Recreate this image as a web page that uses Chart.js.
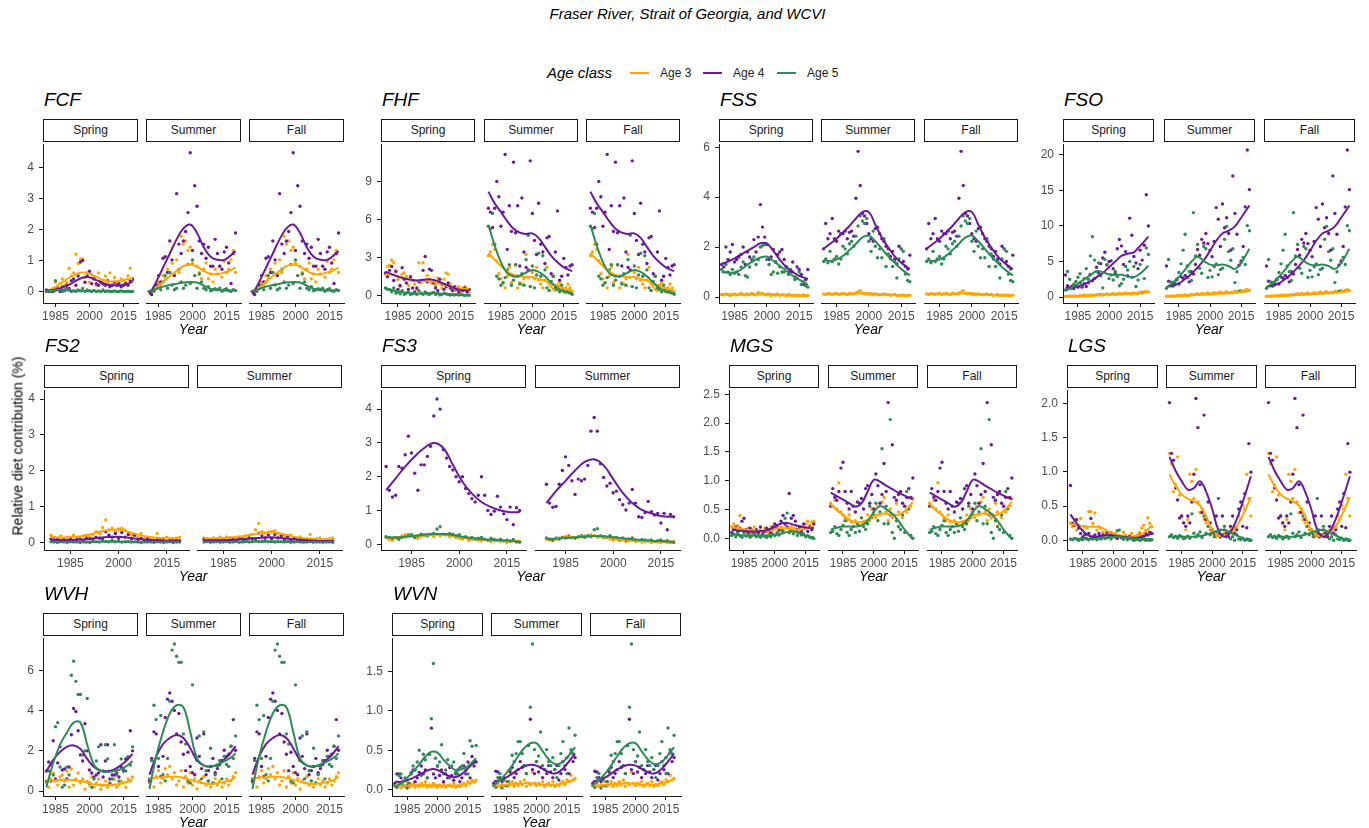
<!DOCTYPE html>
<html>
<head>
<meta charset="utf-8">
<script src="https://cdn.jsdelivr.net/npm/chart.js@4.4.1/dist/chart.umd.min.js"></script>
<style>
  body { margin: 0; background: #fff; font-family: "Liberation Sans", Arial, sans-serif; }
  #page { position: relative; width: 1369px; height: 828px; overflow: hidden; background: #fff; }
  #page canvas { position: absolute; }
  .txt { position: absolute; white-space: nowrap; color: #000; }
  .strip { position: absolute; box-sizing: border-box; border: 1px solid #1a1a1a; background: #fff;
           font-size: 12px; color: #1a1a1a; text-align: center; line-height: 21px; }
  .swatch { position: absolute; height: 2px; }
</style>
</head>
<body>
<div id="page"></div>
<script>
// ---- data ----
const AGE_LABELS = ['Age 3', 'Age 4', 'Age 5'];
const AGE_COLORS = ['#FFA500', '#6A1B9A', '#2E8B57'];
const X_TICKS = [1985, 2000, 2015];

const YEARS = [1977,1978,1979,1980,1981,1982,1983,1984,1985,1986,1987,1988,1989,1990,1991,1992,1993,1994,1995,1996,
  1997,1998,1999,2000,2001,2002,2003,2004,2005,2006,2007,2008,2009,2010,2011,2012,2013,2014,2015,2016,2017,2018,2019];
const FIT77 = [1977,1980,1983,1986,1989,1992,1995,1998,2001,2004,2007,2010,2013,2016,2019];
const FIT79 = [1979,1982,1985,1988,1991,1994,1997,2000,2003,2006,2009,2012,2015,2019];
const FIT81 = [1981,1984,1987,1990,1993,1996,1999,2002,2005,2008,2011,2014,2017,2019];

// each *Pts / *Fit array holds [Age 3, Age 4, Age 5]
const fcfSpringPts = [
  [0,0.02,0.05,0.1,0.3,0.15,0.25,0.4,0.2,0.3,0.75,0.5,0.6,1.2,0.9,1.05,1.05,0.45,0.6,0.3,0.55,0.45,0.2,0.6,0.35,0.25,0.5,0.3,0.6,0.2,0.45,0.3,0.25,0.4,0.35,0.3,0.5,0.75,0.35],
  [0.05,0,0.02,0,0.05,0.1,0,0.15,0.05,0.2,0.1,0.35,0.4,0.2,0.5,0.95,1.0,0.3,0.5,0.65,0.25,0.4,0.25,0.2,0.3,0.25,0.2,0.35,0.15,0.2,0.3,0.2,0.25,0.15,0.2,0.25,0.2,0.35,0.4],
  [0,0.02,0,0.05,0.35,0.1,0.05,0,0.02,0.1,0.05,0,0.02,0,0.05,0.02,0.1,0,0.05,0.02,0,0.03,0,0.02,0,0.05,0,0.02,0,0,0.02,0,0,0.02,0,0,0.01,0,0]
];
const fcfSpringFit = [
  [0,0.1,0.25,0.4,0.52,0.6,0.6,0.5,0.4,0.33,0.32,0.35,0.4,0.4],
  [0.02,0.05,0.1,0.18,0.3,0.42,0.47,0.4,0.3,0.22,0.2,0.2,0.25,0.32],
  [0.01,0.03,0.05,0.04,0.03,0.02,0.02,0.02,0.01,0.01,0.01,0.01,0.01,0.01]
];
const fcfSummerPts = [
  [0,0,0.05,0.1,0.3,0.2,0.5,0.4,0.7,0.6,0.9,0.55,1.0,0.6,1.75,1.5,1.6,1.3,1.4,0.9,0.5,0.8,0.6,0.4,0.7,0.9,0.4,0.55,0.3,0.7,0.55,0.8,0.45,0.95,0.6,0.7,1.0,1.3,0.6],
  [0,-0.1,0.05,0.2,0.5,0.3,1.05,1.1,0.6,1.6,1.0,0.5,3.1,1.5,1.2,1.6,1.9,2.5,4.4,1.3,3.35,2.7,1.6,1.2,1.5,1.05,1.4,0.8,0.8,1.65,1.2,0.8,0.7,1.25,1.4,0.9,0.25,1.2,1.85],
  [0,0.02,0,0.1,0.2,0.05,0.3,0.5,0.1,0.6,0.2,0.05,0.1,0.7,0.3,0.1,0.2,0.85,0.25,1.0,0.5,0.1,0.55,0.3,0.1,0.05,0.15,0.02,0.05,0.08,0.05,0.1,0,0.05,0.08,0.02,0,0.05,0.03]
];
const fcfSummerFit = [
  [0,0.12,0.3,0.48,0.65,0.8,0.86,0.78,0.65,0.55,0.55,0.6,0.68,0.75],
  [-0.1,0.3,0.75,1.2,1.65,2.0,2.12,1.85,1.4,1.1,1.0,1.0,1.15,1.28],
  [0,0.08,0.15,0.2,0.24,0.28,0.3,0.28,0.18,0.08,0.04,0.03,0.03,0.03]
];

const fhfSpringPts = [
  [1.7,2.3,2.4,2.8,2.6,2.0,1.3,0.7,1.7,1.8,1.5,0.8,1.4,1.2,0.9,0.5,2.6,1.0,2.6,1.2,1.6,1.3,1.0,1.2,0.8,1.4,1.0,0.6,1.3,1.8,1.7,0.9,0.5,0.4,0.6,0.7,0.3,0.6,0.7,0.5,0.3],
  [1.8,1.5,2.0,2.3,1.2,1.9,0.5,0.8,2.2,1.3,1.0,0.5,1.5,0.6,0.3,0.6,1.1,1.2,2.0,3.1,1.1,2.1,2.0,1.0,0.6,0.4,1.3,0.9,0.5,0.7,1.0,0.6,0.4,0.7,0.5,0.3,0.5,0.4,0.6,0.3,0.5],
  [0.6,0.5,0.5,0.3,0.6,0.2,0.3,0.15,0.4,0.1,0.2,0.3,0.1,0.15,0.2,0.1,0.4,0.2,0.1,0.3,0.15,0.1,0.2,0.25,0.1,0.2,0.05,0.1,0.2,0.15,0.1,0.05,0.1,0.05,0.1,0.05,0.1,0.05,0.02,0.05,0.03]
];
const fhfSpringFit = [
  [1.7,1.65,1.55,1.4,1.3,1.2,1.15,1.15,1.05,0.9,0.75,0.6,0.55,0.55],
  [1.9,1.7,1.5,1.35,1.25,1.2,1.25,1.3,1.2,1.0,0.8,0.6,0.45,0.4],
  [0.6,0.45,0.33,0.25,0.2,0.18,0.18,0.2,0.2,0.15,0.1,0.08,0.06,0.05]
];
const fhfSummerPts = [
  [3.1,3.4,4.0,3.6,2.7,1.7,1.3,1.0,0.6,1.5,2.2,1.0,1.5,2.4,0.6,1.0,0.9,1.3,3.2,1.4,0.7,1.8,1.3,2.2,1.2,0.9,0.6,1.2,2.2,0.9,0.7,0.5,0.4,0.8,1.0,0.5,0.3,0.6,0.9,0.6,0.3],
  [6.8,6.5,5.3,6.8,8.9,7.7,5.4,6.5,11.0,3.6,7.0,5.0,10.4,4.9,7.0,2.3,7.6,3.4,2.2,2.0,10.5,6.4,4.3,3.2,7.2,4.0,3.4,2.5,4.5,4.6,1.7,1.5,3.4,6.6,1.2,1.5,2.9,2.2,1.6,2.3,2.4],
  [5.4,5.2,6.4,4.0,1.5,1.3,0.8,1.0,1.4,2.0,2.4,0.8,1.2,2.4,1.5,0.9,1.7,0.8,2.8,4.7,0.7,2.3,0.6,1.6,3.3,1.5,3.1,2.0,0.6,0.4,1.1,1.5,0.6,0.5,0.3,0.8,0.5,0.3,0.4,0.2,0.1]
];
const fhfSummerFit = [
  [3.3,2.8,2.3,1.9,1.6,1.5,1.45,1.45,1.3,1.15,0.95,0.75,0.55,0.4],
  [8.1,7.2,6.5,5.8,5.2,4.9,4.8,4.85,4.5,3.8,3.1,2.6,2.2,1.9],
  [5.5,3.9,2.6,1.75,1.5,1.55,1.8,2.0,1.85,1.5,1.0,0.6,0.3,0.15]
];

const fssSpringPts = [
  [0.1,0.08,0.12,0.1,0.06,0.1,0.12,0.08,0.1,0.15,0.1,0.08,0.12,0.1,0.14,0.1,0.08,0.18,0.12,0.15,0.1,0.08,0.12,0.05,0.1,0.08,0.12,0.06,0.1,0.08,0.05,0.1,0.07,0.05,0.08,0.04,0.06,0.05,0.08,0.04,0.06],
  [1.3,1.2,2.0,1.5,1.8,2.1,1.4,1.5,1.6,1.7,2.0,1.3,1.8,1.6,1.5,2.3,1.8,2.4,3.7,2.8,2.4,2.1,1.5,1.6,1.9,1.4,1.7,1.8,1.9,1.5,1.2,1.0,1.0,1.4,0.8,1.2,1.1,0.9,0.5,0.7,1.1],
  [1.1,1.0,1.3,1.0,0.9,1.1,0.95,1.0,0.9,1.2,1.4,0.85,0.8,1.2,1.5,1.6,1.3,1.5,2.0,2.05,2.1,1.5,1.3,0.9,1.0,1.4,0.95,1.2,1.0,1.0,1.2,0.9,1.1,1.0,0.7,0.75,1.0,0.5,0.6,0.45,0.4]
];
const fssSpringFit = [
  [0.1,0.1,0.1,0.1,0.1,0.1,0.12,0.12,0.1,0.08,0.08,0.07,0.07,0.06],
  [1.33,1.42,1.55,1.7,1.85,2.0,2.15,2.15,1.85,1.5,1.2,1.0,0.85,0.72],
  [1.02,0.98,0.98,1.1,1.3,1.45,1.58,1.62,1.45,1.25,1.05,0.85,0.7,0.5]
];
const fssSummerPts = [
  [0.12,0.1,0.14,0.12,0.1,0.12,0.15,0.1,0.12,0.14,0.12,0.1,0.15,0.13,0.12,0.16,0.2,0.25,0.15,0.12,0.14,0.1,0.12,0.08,0.12,0.1,0.08,0.1,0.12,0.08,0.1,0.06,0.08,0.1,0.05,0.07,0.06,0.08,0.04,0.06,0.07],
  [1.9,2.9,2.3,2.5,3.1,2.3,2.2,2.6,2.5,2.5,2.6,2.3,2.55,2.6,2.4,3.9,5.75,4.4,3.3,3.2,2.9,2.5,2.3,2.2,2.7,2.75,2.5,2.3,2.2,2.0,1.9,1.6,1.8,1.5,1.3,2.0,1.9,1.4,1.2,1.1,1.65],
  [1.4,1.5,1.35,1.8,1.4,1.5,1.6,1.3,1.5,2.0,1.9,1.7,2.1,2.2,2.0,2.4,2.8,3.2,3.0,2.9,3.1,2.2,1.8,2.6,2.0,1.55,1.9,1.55,2.3,1.2,1.7,1.5,1.2,1.4,0.75,1.5,1.9,1.8,0.9,0.65,0.6]
];
const fssSummerFit = [
  [0.1,0.12,0.12,0.12,0.12,0.13,0.15,0.15,0.12,0.1,0.08,0.08,0.07,0.06],
  [1.9,2.1,2.3,2.55,2.8,3.1,3.35,3.35,2.85,2.35,1.95,1.6,1.35,1.1],
  [1.45,1.42,1.48,1.62,1.85,2.1,2.35,2.42,2.2,1.9,1.6,1.35,1.1,0.85]
];

const fsoSpringPts = [
  [0.1,0.1,0.15,0.1,0.12,0.15,0.1,0.2,0.15,0.25,0.2,0.15,0.3,0.2,0.25,0.35,0.3,0.4,0.3,0.35,0.45,0.3,0.4,0.5,0.35,0.45,0.55,0.4,0.5,0.6,0.45,0.5,0.4,0.6,0.5,0.55,0.7,0.6,0.75,0.8,0.7],
  [3.1,1.6,1.3,1.5,1.2,1.6,1.4,2.0,1.4,1.9,1.5,2.0,3.2,2.3,2.6,4.2,3.4,4.7,5.5,6.3,4.5,5.0,5.1,4.0,3.4,6.8,8.1,7.2,4.6,6.4,3.0,11.1,8.7,5.7,4.8,4.0,6.6,5.2,7.3,14.4,10.0],
  [1.0,3.6,2.5,1.2,1.8,2.2,2.8,3.3,1.6,2.6,4.0,2.5,5.8,8.5,5.2,3.6,4.8,3.0,1.3,5.3,4.6,2.6,3.1,2.4,3.6,2.9,1.6,1.9,2.5,4.3,3.8,5.0,2.8,4.3,1.5,2.4,4.6,0.6,2.6,6.9,6.0]
];
const fsoSpringFit = [
  [0.1,0.12,0.15,0.2,0.25,0.3,0.35,0.38,0.4,0.45,0.5,0.55,0.6,0.7],
  [1.3,1.4,1.5,1.8,2.2,2.8,3.4,4.2,5.0,5.8,6.1,6.3,7.2,8.5],
  [0.9,1.35,1.9,2.5,3.1,3.65,3.5,3.2,3.1,3.15,2.9,2.8,3.3,4.4]
];
const fsoSummerPts = [
  [0.1,0.12,0.1,0.15,0.12,0.2,0.15,0.25,0.2,0.3,0.25,0.2,0.35,0.3,0.4,0.45,0.35,0.5,0.4,0.45,0.55,0.4,0.5,0.6,0.45,0.55,0.7,0.5,0.6,0.75,0.55,0.65,0.6,0.8,0.7,0.75,0.9,0.8,0.95,1.0,0.9],
  [4.3,2.2,1.6,2.0,1.7,2.4,1.8,2.8,2.6,3.0,2.7,2.1,3.5,3.2,4.5,6.6,5.8,8.0,7.5,8.8,7.4,6.5,5.6,7.7,12.4,10.8,7.0,12.9,9.6,11.0,8.8,6.5,16.8,11.6,8.7,4.4,5.0,7.0,12.5,20.4,14.9],
  [1.2,5.2,2.1,1.5,2.0,2.5,3.4,4.6,6.5,8.7,4.3,3.5,2.3,11.7,5.7,7.3,4.0,3.3,7.0,6.7,2.7,3.7,2.8,4.2,4.6,3.1,3.8,4.0,8.0,9.8,6.3,5.1,6.7,2.0,3.5,0.8,4.8,5.5,4.5,9.9,9.2]
];
const fsoSummerFit = [
  [0.1,0.12,0.15,0.2,0.25,0.3,0.35,0.4,0.45,0.5,0.55,0.6,0.7,0.85],
  [1.4,1.6,1.9,2.5,3.2,4.1,5.1,6.4,7.8,8.8,9.2,9.8,11.0,12.7],
  [1.3,2.0,2.8,3.8,4.9,5.6,5.0,4.5,4.4,4.5,4.3,3.9,4.7,6.7]
];

const fs2SpringPts = [
  [0.2,0.15,0.12,0.18,0.1,0.15,0.12,0.2,0.15,0.1,0.18,0.2,0.15,0.22,0.3,0.25,0.42,0.63,0.35,0.4,0.3,0.38,0.4,0.35,0.25,0.2,0.22,0.15,0.25,0.1,0.15,0.12,0.08,0.25,0.1,0.12,0.15,0.08,0.1,0.12,0.15],
  [0.1,0.08,0.1,0.05,0.08,0.06,0.1,0.05,0.08,0.1,0.06,0.12,0.1,0.08,0.15,0.12,0.1,0.3,0.2,0.15,0.25,0.12,0.28,0.15,0.22,0.1,0.2,0.08,0.12,0.05,0.1,0.06,0.04,0.08,0.05,0.06,0.03,0.05,0.04,0.06,0.05],
  [0.02,0.01,0,0.02,0.01,0,0.02,0.01,0.01,0,0.02,0.01,0,0.03,0.02,0.01,0.05,0.03,0.02,0.06,0.02,0.04,0.01,0.02,0.03,0.01,0.02,0.01,0,0.02,0.01,0.01,0,0.02,0.01,0,0.01,0.02,0,0.01,0.01]
];
const fs2SpringFit = [
  [0.15,0.14,0.15,0.17,0.22,0.3,0.35,0.36,0.3,0.22,0.16,0.13,0.12,0.12],
  [0.07,0.07,0.07,0.08,0.1,0.13,0.15,0.16,0.13,0.1,0.07,0.05,0.05,0.05],
  [0.01,0.01,0.01,0.01,0.01,0.02,0.02,0.02,0.02,0.01,0.01,0.01,0.01,0.01]
];
const fs2SummerPts = [
  [0.12,0.1,0.08,0.12,0.1,0.14,0.1,0.15,0.12,0.1,0.14,0.15,0.12,0.18,0.2,0.22,0.35,0.52,0.3,0.25,0.28,0.3,0.32,0.25,0.2,0.18,0.15,0.2,0.12,0.1,0.15,0.08,0.1,0.22,0.08,0.1,0.12,0.06,0.08,0.1,0.12],
  [0.08,0.06,0.08,0.05,0.06,0.05,0.08,0.05,0.06,0.08,0.05,0.1,0.08,0.06,0.12,0.1,0.08,0.25,0.18,0.12,0.2,0.1,0.22,0.12,0.18,0.08,0.16,0.06,0.1,0.04,0.08,0.05,0.03,0.06,0.04,0.05,0.03,0.04,0.03,0.05,0.04],
  [0.01,0.02,0,0.01,0.02,0,0.01,0.02,0,0.01,0.02,0,0.01,0.03,0.01,0.02,0.04,0.02,0.03,0.05,0.02,0.03,0.01,0.02,0.02,0.01,0.02,0,0.01,0.02,0.01,0,0.01,0.02,0,0.01,0.01,0,0.01,0.01,0]
];
const fs2SummerFit = [
  [0.1,0.1,0.12,0.14,0.17,0.22,0.26,0.28,0.24,0.18,0.13,0.1,0.09,0.09],
  [0.06,0.06,0.06,0.07,0.09,0.11,0.13,0.14,0.12,0.09,0.07,0.05,0.04,0.04],
  [0.01,0.01,0.01,0.01,0.01,0.02,0.02,0.02,0.02,0.01,0.01,0.01,0.01,0.01]
];

const fs3SpringPts = [
  [0.2,0.15,0.12,0.18,0.2,0.25,0.28,0.3,0.25,0.2,0.18,0.22,0.25,0.3,0.28,0.22,0.3,0.25,0.28,0.3,0.22,0.25,0.2,0.18,0.15,0.2,0.12,0.15,0.18,0.12,0.1,0.15,0.12,0.08,0.1,0.12,0.08,0.1,0.05,0.08,0.1,0.06,0.08],
  [2.3,1.6,1.4,1.45,2.3,2.25,2.65,3.2,2.7,2.1,1.6,2.35,2.35,2.6,2.9,3.8,4.3,4.0,2.8,2.55,2.3,2.2,2.0,1.85,2.0,1.65,1.5,1.35,1.25,1.45,2.0,1.45,1.0,0.88,0.98,1.42,1.1,0.9,0.73,1.1,0.58,1.08,1.0],
  [0.22,0.2,0.18,0.2,0.15,0.2,0.22,0.25,0.28,0.2,0.25,0.3,0.28,0.25,0.3,0.32,0.45,0.52,0.3,0.28,0.32,0.3,0.25,0.28,0.2,0.22,0.18,0.2,0.15,0.18,0.2,0.15,0.12,0.18,0.14,0.12,0.15,0.1,0.12,0.1,0.14,0.08,0.06]
];
const fs3SpringFit = [
  [0.18,0.2,0.22,0.25,0.27,0.28,0.28,0.25,0.2,0.16,0.13,0.11,0.1,0.1,0.1],
  [1.6,1.95,2.3,2.6,2.85,3.0,2.85,2.35,1.85,1.5,1.25,1.1,1.0,0.95,0.95],
  [0.2,0.2,0.22,0.25,0.28,0.3,0.3,0.27,0.22,0.18,0.15,0.13,0.12,0.1,0.08]
];
const fs3SummerPts = [
  [0.15,0.12,0.1,0.15,0.18,0.2,0.22,0.25,0.2,0.18,0.2,0.22,0.25,0.22,0.28,0.25,0.2,0.22,0.18,0.2,0.15,0.12,0.15,0.1,0.12,0.08,0.1,0.12,0.08,0.1,0.06,0.08,0.1,0.05,0.08,0.06,0.05,0.08,0.04,0.06,0.08],
  [1.75,1.2,1.08,1.1,1.75,2.15,2.55,2.3,1.85,1.45,1.9,1.85,1.9,2.3,3.3,3.7,3.3,2.35,1.95,1.7,1.78,1.5,1.55,1.3,1.15,1.0,1.2,1.6,1.2,0.8,0.78,0.92,1.25,0.95,0.85,0.9,0.62,0.9,0.42,0.87,0.8],
  [0.18,0.15,0.12,0.18,0.15,0.2,0.18,0.22,0.2,0.18,0.22,0.25,0.2,0.25,0.22,0.42,0.45,0.25,0.22,0.2,0.25,0.18,0.2,0.15,0.18,0.12,0.15,0.18,0.12,0.1,0.14,0.12,0.1,0.12,0.08,0.1,0.12,0.08,0.1,0.06,0.05]
];
const fs3SummerFit = [
  [0.15,0.17,0.19,0.21,0.23,0.24,0.22,0.18,0.14,0.11,0.09,0.08,0.07,0.07],
  [1.2,1.55,1.85,2.15,2.4,2.48,2.3,1.9,1.5,1.2,1.0,0.9,0.82,0.8],
  [0.15,0.16,0.18,0.2,0.22,0.24,0.23,0.2,0.17,0.14,0.12,0.1,0.09,0.07]
];

const mgsSpringPts = [
  [0.2,0.25,0.18,0.22,0.4,0.15,0.1,0.12,0.18,0.08,0.15,0.2,0.1,0.12,0.15,0.08,0.18,0.12,0.1,0.2,0.15,0.25,0.18,0.12,0.2,0.15,0.25,0.18,0.15,0.2,0.12,0.18,0.1,0.15,0.2,0.18,0.25,0.3,0.22,0.28,0.3],
  [0.1,0.15,0.2,0.12,0.18,0.3,0.35,0.15,0.1,0.18,0.12,0.08,0.15,0.1,0.2,0.08,0.12,0.18,0.15,0.1,0.2,0.25,0.22,0.15,0.3,0.4,0.25,0.2,0.78,0.35,0.4,0.3,0.15,0.2,0.12,0.25,0.18,0.12,0.2,0.15,0.25],
  [0.05,0.08,0.03,0.1,0.05,0.02,0.1,0.04,0.06,0.02,0.05,0.08,0.03,0.05,0.02,0.06,0.04,0.02,0.05,0.03,0.08,0.05,0.1,0.06,0.15,0.12,0.35,0.44,0.1,0.15,0.08,0.12,0.05,0.1,0.06,0.08,0.03,0.05,0.02,0.01,0.0]
];
const mgsSpringFit = [
  [0.2,0.18,0.16,0.14,0.13,0.13,0.14,0.16,0.18,0.18,0.16,0.15,0.17,0.22],
  [0.15,0.14,0.13,0.12,0.12,0.13,0.15,0.2,0.26,0.27,0.24,0.21,0.19,0.18],
  [0.07,0.06,0.05,0.05,0.05,0.05,0.05,0.06,0.08,0.11,0.12,0.09,0.05,0.02]
];
const mgsSummerPts = [
  [0.6,0.55,0.65,0.5,0.95,0.45,0.4,0.35,0.3,0.4,0.28,0.2,0.3,0.25,0.22,0.35,0.28,0.25,0.4,0.3,0.5,0.45,0.35,0.55,0.4,0.62,0.7,0.45,0.3,0.5,0.35,0.4,0.6,0.45,0.25,0.35,0.55,0.45,0.7,0.55,0.68],
  [0.55,0.85,0.7,0.65,0.8,1.2,1.3,0.8,0.6,0.5,0.8,0.55,0.45,0.62,0.6,0.68,0.5,0.85,0.9,0.6,0.75,0.5,1.1,0.9,0.6,0.75,1.28,0.8,2.32,0.4,1.6,0.7,0.65,0.75,0.8,0.6,0.55,0.7,0.85,0.7,1.03],
  [0.1,0.12,0.2,0.08,0.05,0.15,0.22,0.3,0.1,0.05,0.15,0.2,0.1,0.25,0.12,0.35,0.2,0.15,0.25,0.55,0.35,0.4,0.6,0.3,0.45,1.53,0.25,0.55,0.25,2.03,0.1,0.0,0.3,0.2,0.15,0.4,0.1,0.8,0.5,0.05,0.0]
];
const mgsSummerFit = [
  [0.58,0.48,0.4,0.32,0.28,0.28,0.32,0.38,0.42,0.42,0.4,0.4,0.47,0.62],
  [0.78,0.72,0.66,0.6,0.54,0.6,0.8,1.0,0.97,0.9,0.84,0.78,0.73,0.66],
  [0.15,0.18,0.2,0.2,0.2,0.22,0.3,0.45,0.55,0.5,0.42,0.3,0.15,-0.02]
];

const lgsSpringPts = [
  [0.25,0.2,0.3,0.15,0.22,0.32,0.15,0.2,0.18,0.42,0.42,0.25,0.4,0.15,0.2,0.18,0.12,0.08,0.1,0.05,0.12,0.08,0.1,0.03,0.06,0.05,0.12,0.08,0.02,0.05,0.1,0.03,0.05,0.08,0.12,0.18,0.22,0.15,0.33,0.25,0.2],
  [0.8,0.25,0.22,0.3,0.18,0.1,0.05,0.08,0.03,0.1,0.32,0.05,0.08,0.02,0.1,0.05,0.08,0.03,0.12,0.05,0.1,0.08,0.05,0.03,0.06,0.04,0.02,0.05,0.03,0.06,0.04,0.02,0.05,0.03,0.08,0.05,0.06,0.1,0.08,0.12,0.1],
  [0.02,0.01,0.03,0.02,0,0.02,0.01,0.03,0.02,0.01,0.05,0.02,0.03,0.01,0.04,0.02,0.06,0.03,0.04,0.05,0.02,0.08,0.06,0.14,0.15,0.05,0.02,0.04,0.01,0.03,0.02,0,0.01,0.02,0,0.01,0.02,0,0.01,0,0.01]
];
const lgsSpringFit = [
  [0.25,0.22,0.21,0.2,0.2,0.19,0.14,0.1,0.08,0.06,0.05,0.07,0.11,0.22],
  [0.38,0.25,0.14,0.07,0.05,0.07,0.08,0.07,0.06,0.05,0.04,0.04,0.06,0.1],
  [0.02,0.02,0.02,0.02,0.02,0.03,0.04,0.05,0.05,0.04,0.03,0.02,0.02,0.02]
];
const lgsSummerPts = [
  [1.25,1.1,0.7,0.8,1.2,0.65,0.35,0.25,0.15,0.3,0.95,0.85,0.6,1.02,0.55,0.4,0.45,0.3,0.25,0.2,0.15,0.1,0.08,0.05,0.12,0.05,0.08,0.1,0.05,0.08,0.15,0.1,0.2,0.18,0.35,0.3,0.5,0.45,0.95,0.6,0.35],
  [1.98,1.25,1.15,0.75,0.58,0.32,0.35,0.25,0.2,0.35,0.25,0.55,0.95,2.04,1.62,0.8,0.4,1.8,0.3,0.55,0.25,0.15,0.1,0.35,0.08,0.05,0.35,0.15,0.1,0.05,0.2,0.35,0.1,0.15,0.45,0.55,0.2,0.67,0.18,1.39,0.98],
  [0.05,0.08,0.04,0.06,0.03,0.07,0.05,0.02,0.04,0.06,0.03,0.38,0.1,0.05,0.08,0.12,0.04,0.35,0.1,0.2,0.08,0.15,0.05,0.1,0.6,0.15,0.08,0.2,0.05,0.1,0.02,0.05,0.0,0.08,0.02,0.01,0.03,0.0,0.02,0.01,0.0]
];
const lgsSummerFit = [
  [0.95,0.78,0.66,0.6,0.56,0.5,0.35,0.15,0.07,0.06,0.1,0.2,0.36,0.62],
  [1.2,1.0,0.85,0.73,0.75,0.85,0.7,0.45,0.15,0.05,0.12,0.3,0.55,0.92],
  [0.06,0.05,0.05,0.05,0.05,0.06,0.08,0.11,0.14,0.15,0.11,0.07,0.03,-0.02]
];

const wvhSpringPts = [
  [0.4,0.2,0.6,0.9,0.5,0.3,0.7,0.8,0.5,1.0,0.2,1.1,0.3,0.6,0.9,0.4,0.6,0.1,0.5,0.3,0.7,0.2,0.4,0.6,0.1,0.3,0.5,0.2,0.4,0.3,0.6,0.2,0.3,0.5,0.4,0.2,0.6,0.5,0.7],
  [1.0,1.45,0.5,2.5,0.6,1.4,2.2,1.05,1.1,0.6,1.2,2.8,4.1,3.95,3.0,1.8,1.5,3.35,2.0,1.05,0.9,0.7,0.8,0.9,2.3,0.7,1.5,2.3,0.6,0.8,0.8,0.9,0.7,1.2,1.0,1.6,1.7,3.0,2.0],
  [0.5,1.0,1.3,0.8,3.2,3.4,1.2,0.2,0.3,1.2,0.8,5.75,6.45,5.45,4.8,4.8,1.8,2.0,4.6,0.4,0.2,0.6,1.5,2.2,0.3,1.0,2.3,1.6,0.4,0.6,2.3,0.8,0.5,1.6,1.1,1.0,1.7,1.3,2.2]
];
const wvhSpringFit = [
  [0.5,0.53,0.56,0.57,0.55,0.5,0.42,0.33,0.3,0.3,0.32,0.38,0.48,0.6],
  [1.0,1.55,1.95,2.2,2.27,2.1,1.6,1.2,1.02,1.0,1.08,1.3,1.6,1.85],
  [0.2,1.4,2.3,2.9,3.4,3.4,2.3,1.3,1.0,0.95,1.0,1.1,1.3,1.5]
];
const wvhSummerPts = [
  [0.4,0.9,0.2,0.7,1.0,0.4,0.6,1.1,0.8,1.2,0.6,0.9,0.3,0.5,1.0,0.2,0.7,0.4,0.9,0.3,0.6,0.1,0.5,0.4,0.7,0.3,0.5,0.2,0.4,0.6,0.3,0.5,0.2,0.4,0.6,0.3,0.5,0.7,0.9],
  [0.5,1.6,2.9,2.8,1.2,0.7,1.7,3.6,4.5,4.8,4.4,3.95,2.8,3.8,2.4,1.8,1.0,1.9,1.2,0.9,0.8,2.6,1.7,1.1,2.8,0.8,1.0,1.2,1.6,0.9,1.1,1.3,1.5,2.0,1.7,1.8,2.2,3.5,2.0],
  [0.6,1.5,4.2,3.5,1.6,3.7,0.8,0.5,1.6,4.4,6.9,7.2,6.6,6.3,6.3,2.8,2.3,0.5,0.4,5.2,1.8,1.5,2.7,0.6,2.9,1.0,0.5,2.1,0.4,0.8,1.2,1.5,0.6,1.7,1.3,1.2,2.2,1.6,2.7]
];
const wvhSummerFit = [
  [0.6,0.65,0.68,0.7,0.7,0.65,0.55,0.45,0.38,0.35,0.38,0.45,0.55,0.7],
  [0.8,1.7,2.3,2.6,2.75,2.6,2.1,1.5,1.25,1.2,1.3,1.55,1.9,2.2],
  [0.1,1.7,2.9,3.8,4.2,4.1,2.9,1.6,1.26,1.2,1.3,1.45,1.65,1.85]
];

const wvnSpringPts = [
  [0.05,0.03,0.08,0.02,0.06,0.04,0.1,0.03,0.05,0.08,0.03,0.06,0.04,0.08,0.05,0.1,0.03,0.06,0.04,0.08,0.05,0.03,0.06,0.04,0.08,0.03,0.05,0.06,0.04,0.08,0.03,0.05,0.04,0.06,0.08,0.05,0.1,0.08,0.12,0.1,0.12],
  [0.08,0.2,0.2,0.15,0.1,0.12,0.05,0.08,0.2,0.25,0.1,0.15,0.22,0.3,0.2,0.25,0.15,0.45,0.78,0.2,0.15,0.3,0.18,0.25,0.1,0.2,0.15,0.28,0.18,0.12,0.2,0.25,0.1,0.15,0.3,0.2,0.35,0.15,0.42,0.3,0.35],
  [0.05,0.03,0.18,0.2,0.05,0.15,0.02,0.08,0.22,0.3,0.25,0.35,0.5,0.18,0.45,0.38,0.15,0.45,0.9,1.6,0.4,0.3,0.35,0.57,0.2,0.25,0.38,0.15,0.3,0.35,0.22,0.2,0.28,0.3,0.46,0.25,0.2,0.62,0.55,0.35,0.56]
];
const wvnSpringFit = [
  [0.05,0.05,0.05,0.06,0.06,0.06,0.06,0.06,0.05,0.05,0.05,0.06,0.08,0.11],
  [0.1,0.1,0.12,0.15,0.19,0.23,0.26,0.25,0.21,0.17,0.16,0.2,0.27,0.37],
  [0.03,0.08,0.15,0.23,0.32,0.42,0.48,0.47,0.38,0.3,0.25,0.26,0.3,0.4]
];
const wvnSummerPts = [
  [0.05,0.03,0.08,0.04,0.06,0.05,0.1,0.04,0.06,0.1,0.04,0.08,0.05,0.1,0.06,0.12,0.04,0.08,0.06,0.22,0.08,0.05,0.08,0.06,0.1,0.04,0.06,0.08,0.05,0.1,0.04,0.06,0.05,0.08,0.1,0.06,0.12,0.1,0.18,0.12,0.14],
  [0.08,0.23,0.22,0.15,0.1,0.15,0.05,0.1,0.22,0.28,0.15,0.2,0.25,0.35,0.28,0.3,0.2,0.55,0.88,0.25,0.2,0.35,0.22,0.28,0.15,0.25,0.2,0.3,0.22,0.15,0.25,0.3,0.12,0.2,0.35,0.25,0.4,0.2,0.46,0.35,0.4],
  [0.05,0.03,0.15,0.2,0.02,0.12,0.05,0.1,0.25,0.43,0.35,0.45,0.6,0.6,0.45,0.3,0.2,0.55,1.03,1.82,0.5,0.35,0.42,0.72,0.3,0.25,0.5,0.35,0.3,0.4,0.25,0.15,0.3,0.45,0.6,0.3,0.2,0.77,0.5,0.45,0.68]
];
const wvnSummerFit = [
  [0.05,0.05,0.06,0.07,0.07,0.08,0.08,0.07,0.06,0.06,0.06,0.07,0.09,0.13],
  [0.1,0.12,0.15,0.2,0.25,0.29,0.31,0.3,0.26,0.22,0.2,0.24,0.32,0.45],
  [0.05,0.12,0.2,0.3,0.42,0.52,0.58,0.58,0.48,0.38,0.32,0.33,0.4,0.53]
];

// y tick labels per group
const TICKS_FCF = [0, 1, 2, 3, 4];
const TICKS_FHF = [0, 3, 6, 9];
const TICKS_FSS = [0, 2, 4, 6];
const TICKS_FSO = [0, 5, 10, 15, 20];
const TICKS_FS2 = [0, 1, 2, 3, 4];
const TICKS_FS3 = [0, 1, 2, 3, 4];
const TICKS_MGS = [0, 0.5, 1, 1.5, 2, 2.5];
const TICKS_LGS = [0, 0.5, 1, 1.5, 2];
const TICKS_WVH = [0, 2, 4, 6];
const TICKS_WVN = [0, 0.5, 1, 1.5];

// ---- layout ----
const FONT = '"Liberation Sans", Arial, sans-serif';
const Y_AXIS_W = 40;
const X_AXIS_H = 24;
const PAD_SIDE = 16;
const PAD_TOP = 10;
const STRIP_H = 23;

const ROWS = [
  { top: 142, bottom: 303 },
  { top: 388, bottom: 550 },
  { top: 636, bottom: 796 }
];

function P(season, pts, fit, start, fitYears) {
  return { season, pts, fit, start, fitYears };
}

const GROUPS = [
  { name: 'FCF', row: 0, left: 43.3, width: 94.5, step: 102.7, x: [1979.5, 2021.4], y: [-0.37, 4.74], ticks: TICKS_FCF, dec: 0,
    panels: [P('Spring', fcfSpringPts, fcfSpringFit, 1981, FIT81), P('Summer', fcfSummerPts, fcfSummerFit, 1981, FIT81), P('Fall', fcfSummerPts, fcfSummerFit, 1981, FIT81)] },
  { name: 'FHF', row: 0, left: 381.3, width: 94, step: 102.5, x: [1976.9, 2021.8], y: [-0.58, 11.97], ticks: TICKS_FHF, dec: 0,
    panels: [P('Spring', fhfSpringPts, fhfSpringFit, 1979, FIT79), P('Summer', fhfSummerPts, fhfSummerFit, 1979, FIT79), P('Fall', fhfSummerPts, fhfSummerFit, 1979, FIT79)] },
  { name: 'FSS', row: 0, left: 718.7, width: 94, step: 102.5, x: [1977.8, 2021.4], y: [-0.24, 6.12], ticks: TICKS_FSS, dec: 0,
    panels: [P('Spring', fssSpringPts, fssSpringFit, 1979, FIT79), P('Summer', fssSummerPts, fssSummerFit, 1979, FIT79), P('Fall', fssSummerPts, fssSummerFit, 1979, FIT79)] },
  { name: 'FSO', row: 0, left: 1063.3, width: 91.2, step: 100.2, x: [1977.8, 2021.7], y: [-0.83, 21.5], ticks: TICKS_FSO, dec: 0,
    panels: [P('Spring', fsoSpringPts, fsoSpringFit, 1979, FIT79), P('Summer', fsoSummerPts, fsoSummerFit, 1979, FIT79), P('Fall', fsoSummerPts, fsoSummerFit, 1979, FIT79)] },
  { name: 'FS2', row: 1, left: 43.7, width: 145.3, step: 153.6, x: [1976.8, 2021.9], y: [-0.21, 4.25], ticks: TICKS_FS2, dec: 0,
    panels: [P('Spring', fs2SpringPts, fs2SpringFit, 1979, FIT79), P('Summer', fs2SummerPts, fs2SummerFit, 1979, FIT79)] },
  { name: 'FS3', row: 1, left: 381.3, width: 144.9, step: 153.7, x: [1975.4, 2021.0], y: [-0.17, 4.56], ticks: TICKS_FS3, dec: 0,
    panels: [P('Spring', fs3SpringPts, fs3SpringFit, 1977, FIT77), P('Summer', fs3SummerPts, fs3SummerFit, 1979, FIT79)] },
  { name: 'MGS', row: 1, left: 729.3, width: 90.4, step: 98.9, x: [1977.7, 2021.5], y: [-0.2, 2.57], ticks: TICKS_MGS, dec: 1,
    panels: [P('Spring', mgsSpringPts, mgsSpringFit, 1979, FIT79), P('Summer', mgsSummerPts, mgsSummerFit, 1979, FIT79), P('Fall', mgsSummerPts, mgsSummerFit, 1979, FIT79)] },
  { name: 'LGS', row: 1, left: 1066.7, width: 90.6, step: 99, x: [1977.3, 2022.0], y: [-0.14, 2.19], ticks: TICKS_LGS, dec: 1,
    panels: [P('Spring', lgsSpringPts, lgsSpringFit, 1979, FIT79), P('Summer', lgsSummerPts, lgsSummerFit, 1979, FIT79), P('Fall', lgsSummerPts, lgsSummerFit, 1979, FIT79)] },
  { name: 'WVH', row: 2, left: 43.3, width: 94.5, step: 102.7, x: [1979.5, 2021.4], y: [-0.24, 7.59], ticks: TICKS_WVH, dec: 0,
    panels: [P('Spring', wvhSpringPts, wvhSpringFit, 1981, FIT81), P('Summer', wvhSummerPts, wvhSummerFit, 1981, FIT81), P('Fall', wvhSummerPts, wvhSummerFit, 1981, FIT81)] },
  { name: 'WVN', row: 2, left: 391.7, width: 90.5, step: 99, x: [1977.6, 2022.4], y: [-0.08, 1.92], ticks: TICKS_WVN, dec: 1,
    panels: [P('Spring', wvnSpringPts, wvnSpringFit, 1979, FIT79), P('Summer', wvnSummerPts, wvnSummerFit, 1979, FIT79), P('Fall', wvnSummerPts, wvnSummerFit, 1979, FIT79)] }
];

const page = document.getElementById('page');

function addText(text, left, top, css) {
  const d = document.createElement('div');
  d.className = 'txt';
  d.textContent = text;
  d.style.left = left + 'px';
  d.style.top = top + 'px';
  Object.assign(d.style, css || {});
  page.appendChild(d);
  return d;
}

// lines first so they sit on top of the points; Age 5 above Age 4 above Age 3
function panelDatasets(p) {
  const ptYears = YEARS.slice(YEARS.indexOf(p.start));
  const sets = [];
  [2, 1, 0].forEach((a, k) => {
    sets.push({
      label: AGE_LABELS[a] + ' fit',
      data: p.fitYears.map((yr, i) => ({ x: yr, y: p.fit[a][i] })),
      showLine: true,
      tension: 0.4,
      borderColor: AGE_COLORS[a],
      borderWidth: 2,
      pointRadius: 0,
      order: k
    });
  });
  [2, 1, 0].forEach((a, k) => {
    sets.push({
      label: AGE_LABELS[a],
      data: p.pts[a].slice(0, ptYears.length).map((v, i) => ({ x: ptYears[i], y: v })),
      showLine: false,
      pointRadius: 1.7,
      pointBackgroundColor: AGE_COLORS[a],
      pointBorderWidth: 0,
      order: 3 + k
    });
  });
  return sets;
}

function drawPanel(group, idx) {
  const p = group.panels[idx];
  const row = ROWS[group.row];
  const first = idx === 0;
  const plotLeft = Math.round(group.left + idx * group.step);
  const plotW = Math.round(group.width);
  const plotH = row.bottom - row.top;
  const padL = first ? Y_AXIS_W : PAD_SIDE;

  // strip label
  const strip = document.createElement('div');
  strip.className = 'strip';
  strip.textContent = p.season;
  Object.assign(strip.style, {
    left: plotLeft + 'px', top: (row.top - STRIP_H) + 'px',
    width: plotW + 'px', height: STRIP_H + 'px'
  });
  page.appendChild(strip);

  const cvs = document.createElement('canvas');
  const cw = plotW + padL + PAD_SIDE;
  const ch = plotH + PAD_TOP + X_AXIS_H;
  cvs.width = cw;
  cvs.height = ch;
  Object.assign(cvs.style, {
    left: (plotLeft - padL) + 'px', top: (row.top - PAD_TOP) + 'px',
    width: cw + 'px', height: ch + 'px'
  });
  page.appendChild(cvs);

  const tickFont = { family: FONT, size: 12 };

  new Chart(cvs, {
    type: 'scatter',
    data: { datasets: panelDatasets(p) },
    options: {
      responsive: false,
      animation: false,
      events: [],
      layout: { padding: { left: first ? 0 : PAD_SIDE, right: PAD_SIDE, top: PAD_TOP, bottom: 0 } },
      plugins: { legend: { display: false }, tooltip: { enabled: false } },
      scales: {
        x: {
          type: 'linear',
          min: group.x[0],
          max: group.x[1],
          border: { display: true, color: '#1a1a1a', width: 1 },
          grid: { display: true, drawOnChartArea: false, drawTicks: true, tickLength: 4, color: '#1a1a1a' },
          ticks: { color: '#4d4d4d', font: tickFont, padding: 2, maxRotation: 0, autoSkip: false,
                   callback: v => String(v) },
          afterBuildTicks: s => { s.ticks = X_TICKS.map(v => ({ value: v })); },
          afterFit: s => { s.height = X_AXIS_H; }
        },
        y: {
          type: 'linear',
          display: first,
          min: group.y[0],
          max: group.y[1],
          border: { display: true, color: '#1a1a1a', width: 1 },
          grid: { display: true, drawOnChartArea: false, drawTicks: true, tickLength: 4, color: '#1a1a1a' },
          ticks: { color: '#4d4d4d', font: tickFont, padding: 5, autoSkip: false,
                   callback: v => Number(v).toFixed(group.dec) },
          afterBuildTicks: s => { s.ticks = group.ticks.map(v => ({ value: v })); },
          afterFit: s => { s.width = first ? Y_AXIS_W : 0; }
        }
      }
    }
  });
}

GROUPS.forEach(g => {
  const row = ROWS[g.row];
  // facet group title
  addText(g.name, Math.round(g.left) + 1, row.top - 53, { font: 'italic 19px ' + FONT, lineHeight: '22px' });
  g.panels.forEach((p, i) => drawPanel(g, i));
  // x axis title
  const right = g.left + (g.panels.length - 1) * g.step + g.width;
  const yr = addText('Year', 0, row.bottom + 18, { font: 'italic 14px ' + FONT, lineHeight: '17px' });
  yr.style.left = ((g.left + right) / 2) + 'px';
  yr.style.transform = 'translateX(-50%)';
});

// page title
addText('Fraser River, Strait of Georgia, and WCVI', 0, 5,
  { width: '1375px', textAlign: 'center', font: 'italic 15px ' + FONT, lineHeight: '18px' });

// legend
addText('Age class', 547, 64, { font: 'italic 15px ' + FONT, lineHeight: '18px' });
const LEGEND_X = [630, 703, 777];
AGE_LABELS.forEach((lab, i) => {
  const sw = document.createElement('div');
  sw.className = 'swatch';
  Object.assign(sw.style, { left: LEGEND_X[i] + 'px', top: '72px', width: '19px', background: AGE_COLORS[i] });
  page.appendChild(sw);
  addText(lab, LEGEND_X[i] + 30, 66, { font: '12px ' + FONT, lineHeight: '14px', color: '#1a1a1a' });
});

// shared y axis title
const yt = addText('Relative diet contribution (%)', 18, 446, { font: '14px ' + FONT, lineHeight: '17px' });
yt.style.transform = 'translate(-50%, -50%) rotate(-90deg)';
</script>
</body>
</html>
